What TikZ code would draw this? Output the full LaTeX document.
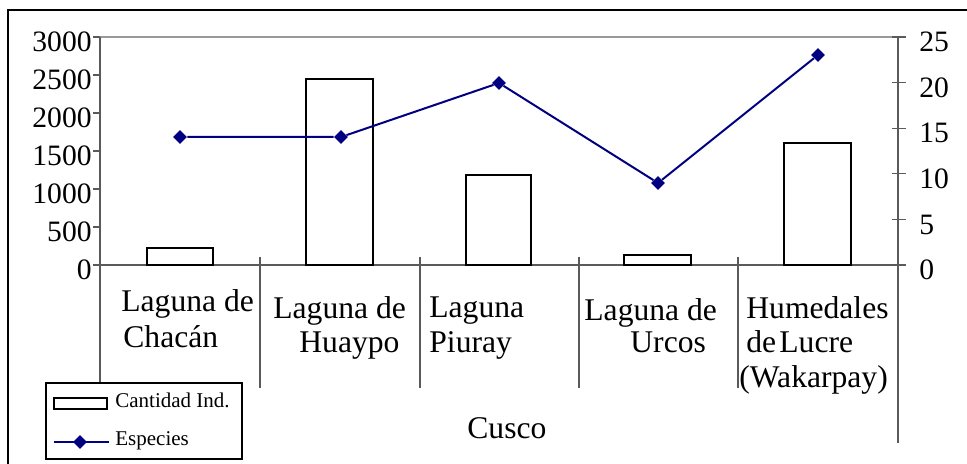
\documentclass[tikz,border=0pt]{standalone}
\usepackage{fontspec}
\setmainfont{Liberation Serif}
\usetikzlibrary{shapes.geometric}
\definecolor{especies}{RGB}{0,0,128}
\definecolor{ejegris}{RGB}{90,90,90}

\begin{document}
\begin{tikzpicture}[x=0.5pt,y=-0.5pt,
	barra/.style={draw=black,line width=0.8pt,fill=white},
	eje/.style={draw=ejegris,line width=0.6pt},
	serie/.style={draw=especies,line width=1pt},
	marca/.style={diamond,fill=especies,inner sep=0pt,minimum size=7pt},
	numero/.style={inner sep=0pt,font=\fontsize{14.8}{16}\selectfont},
	rotulo/.style={anchor=base west,inner sep=0pt,font=\fontsize{15.8}{17.5}\selectfont},
	leyenda/.style={anchor=base west,inner sep=0pt,font=\fontsize{10.5}{12}\selectfont}]
			\useasboundingbox (0,0) rectangle (967,464);
			\draw[line width=1pt] (8,10) rectangle (970,470);
			
			\draw[gray!80,line width=0.6pt] (100,37)-- (898,37);
			\draw[eje] (100,37)-- (100,388);
			\draw[eje] (898,37)-- (898,443);
			\draw[eje] (93,265)-- (906,265);
			
			\draw[eje] (93,37)-- (100,37);
			\draw[eje] (93,75)-- (100,75);
			\draw[eje] (93,113)-- (100,113);
			\draw[eje] (93,151)-- (100,151);
			\draw[eje] (93,189)-- (100,189);
			\draw[eje] (93,227)-- (100,227);
			
			\draw[eje] (892,37)-- (906,37);
			\draw[eje] (892,82.6)-- (906,82.6);
			\draw[eje] (892,128.2)-- (906,128.2);
			\draw[eje] (892,173.8)-- (906,173.8);
			\draw[eje] (892,219.4)-- (906,219.4);
			
			\draw[eje] (260,257)-- (260,388);
			\draw[eje] (420,257)-- (420,388);
			\draw[eje] (579,257)-- (579,388);
			\draw[eje] (738,257)-- (738,388);
			
			\draw[barra] (147,248) rectangle (213,265);
			\draw[barra] (306,79) rectangle (373,265);
			\draw[barra] (466,175) rectangle (531,265);
			\draw[barra] (624,255) rectangle (691,265);
			\draw[barra] (784,143) rectangle (851,265);
			
			\node[marca] (s1) at (180,137) {};
			\node[marca] (s2) at (341,137) {};
			\node[marca] (s3) at (499,83) {};
			\node[marca] (s4) at (658,183) {};
			\node[marca] (s5) at (818,55) {};
			\draw[serie] (s1)-- (s2)-- (s3)-- (s4)-- (s5);
			
			\node[numero,anchor=base east] (izq0) at (92,279.7) {0};
			\node[numero,anchor=base east] (izq1) at (92,241.7) {500};
			\node[numero,anchor=base east] (izq2) at (92,203.7) {1000};
			\node[numero,anchor=base east] (izq3) at (92,165.7) {1500};
			\node[numero,anchor=base east] (izq4) at (92,127.7) {2000};
			\node[numero,anchor=base east] (izq5) at (92,89.7) {2500};
			\node[numero,anchor=base east] (izq6) at (92,51.7) {3000};
			
			\node[numero,anchor=base west] (der0) at (919,279.7) {0};
			\node[numero,anchor=base west] (der1) at (919,234.1) {5};
			\node[numero,anchor=base west] (der2) at (919,188.5) {10};
			\node[numero,anchor=base west] (der3) at (919,142.9) {15};
			\node[numero,anchor=base west] (der4) at (919,97.3) {20};
			\node[numero,anchor=base west] (der5) at (919,51.7) {25};
			
			\node[rotulo] (chacan1) at (121,312) {Laguna de};
			\node[rotulo] (chacan2) at (123,347) {Chacán};
			\node[rotulo] (huaypo1) at (273,318) {Laguna de};
			\node[rotulo] (huaypo2) at (299,352) {Huaypo};
			\node[rotulo] (piuray1) at (429,317) {Laguna};
			\node[rotulo] (piuray2) at (429,352) {Piuray};
			\node[rotulo] (urcos1) at (584,321) {Laguna de};
			\node[rotulo] (urcos2) at (630,352) {Urcos};
			\node[rotulo] (lucre1) at (746,318) {Humedales};
			\node[rotulo] (lucre2) at (746,352) {de};
			\node[rotulo] (lucre3) at (779,352) {Lucre};
			\node[rotulo] (lucre4) at (739,387) {(Wakarpay)};
			\node[rotulo] (cusco) at (467,438) {Cusco};
			
			\draw[fill=white,line width=0.6pt] (46,383) rectangle (242,459);
			\node[barra,inner sep=0pt,minimum width=26.5pt,minimum height=5.5pt] (legbarra) at (80.5,403.5) {};
			\node[leyenda] (legcantidad) at (115,407) {Cantidad Ind.};
			\coordinate (legini) at (54,442);
			\coordinate (legfin) at (109,442);
			\draw[serie] (legini)-- (legfin);
			\node[marca] (legmarca) at (80,442) {};
			\node[leyenda] (legespecies) at (115,445) {Especies};
		\end{tikzpicture}
\end{document}
